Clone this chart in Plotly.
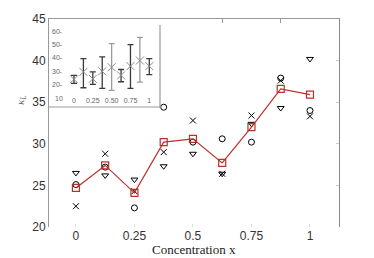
import plotly.graph_objects as go

# ---- data ----
conc = [0, 0.125, 0.25, 0.375, 0.5, 0.625, 0.75, 0.875, 1]
kappa_cross = [22.5, 28.8, 24.3, 29.0, 32.8, 26.4, 33.4, 37.6, 33.3]
kappa_circle = [25.1, 27.2, 22.3, 34.4, 30.2, 30.6, 30.2, 37.9, 34.0]
kappa_tri = [26.5, 26.2, 25.7, 27.3, 28.8, 26.4, 32.4, 34.3, 40.2]
kappa_mean = [24.7, 27.4, 24.1, 30.2, 30.6, 27.7, 32.0, 36.6, 35.9]

# inset: centre, upper and lower ends of the bars
inset_center = [24.0, 29.6, 24.4, 30.0, 33.1, 27.0, 33.9, 38.1, 33.9]
inset_top = [27.0, 39.6, 29.6, 40.8, 50.7, 31.4, 50.0, 55.5, 39.6]
inset_bottom = [21.0, 17.7, 20.2, 17.2, 15.7, 22.2, 17.2, 22.0, 27.6]
inset_light = [False, False, False, False, True, False, False, True, False]

main_xticks = [0, 0.25, 0.5, 0.75, 1]
main_xlabels = ["0", "0.25", "0.5", "0.75", "1"]
main_yticks = [20, 25, 30, 35, 40, 45]
inset_xticks = [0, 0.25, 0.5, 0.75, 1]
inset_xlabels = ["0", "0.25", "0.50", "0.75", "1"]
inset_yticks = [10, 20, 30, 40, 50, 60]
inset_ylabels = ["10", "20-", "30-", "40-", "50-", "60-"]

W, H = 374, 258
L, R, T, B = 49, 35, 19, 31
PW, PH = W - L - R, H - T - B

def px(xp):
    return (xp - L) / PW

def py(yp):
    return (H - B - yp) / PH

fig = go.Figure()

mk = dict(color="black", size=6, line=dict(color="black", width=1))
fig.add_trace(go.Scatter(x=conc, y=kappa_cross, mode="markers",
                         marker=dict(symbol="x-thin-open", **mk)))
fig.add_trace(go.Scatter(x=conc, y=kappa_circle, mode="markers",
                         marker=dict(symbol="circle-open", **mk)))
fig.add_trace(go.Scatter(x=conc, y=kappa_tri, mode="markers",
                         marker=dict(symbol="triangle-down-open", **mk)))
fig.add_trace(go.Scatter(x=conc, y=kappa_mean, mode="lines+markers",
                         line=dict(color="#b8322b", width=1.2),
                         marker=dict(symbol="square-open", size=7,
                                     color="#b8322b",
                                     line=dict(color="#b8322b", width=1.2))))

# overlay axes for top/right frame ticks
fig.add_trace(go.Scatter(x=[None], y=[None], xaxis="x3", yaxis="y3",
                         showlegend=False, hoverinfo="skip"))

# inset error bars
for light in (False, True):
    xs = [c for c, l in zip(conc, inset_light) if l == light]
    ys = [v for v, l in zip(inset_center, inset_light) if l == light]
    up = [t - v for t, v, l in zip(inset_top, inset_center, inset_light) if l == light]
    dn = [v - b for b, v, l in zip(inset_bottom, inset_center, inset_light) if l == light]
    col = "#9a9a9a" if light else "#3a3a3a"
    fig.add_trace(go.Scatter(
        x=xs, y=ys, mode="markers", xaxis="x2", yaxis="y2",
        marker=dict(symbol="x-thin-open", size=8, color="#8a8a8a",
                    line=dict(color="#8a8a8a", width=1)),
        error_y=dict(type="data", symmetric=False, array=up, arrayminus=dn,
                     color=col, thickness=1.3, width=3)))

inset_label_annots = [
    dict(text=lab, xref="paper", yref="y2", x=px(65), y=v,
         xanchor="right", yanchor="middle", showarrow=False,
         font=dict(family="Liberation Sans", size=7, color="#666"))
    for v, lab in zip(inset_yticks, inset_ylabels)
]

ax_x_range = [-0.115, 1.124]
fig.update_layout(
    width=W, height=H, margin=dict(l=L, r=R, t=T, b=B, autoexpand=False),
    paper_bgcolor="white", plot_bgcolor="white", showlegend=False,
    xaxis=dict(domain=[0, 1], range=ax_x_range, tickvals=main_xticks,
               ticktext=main_xlabels, showgrid=False, zeroline=False,
               showline=False, ticks="inside", ticklen=3, tickcolor="#e0e0e0",
               automargin=False,
               tickfont=dict(family="Liberation Sans", size=12, color="#333")),
    yaxis=dict(domain=[0, 1], range=[20, 45], tickvals=main_yticks,
               showgrid=False, zeroline=False, showline=True,
               linecolor="#999", linewidth=1, ticks="", automargin=False,
               tickfont=dict(family="Liberation Sans", size=12, color="#333")),
    xaxis3=dict(overlaying="x", side="top", anchor="y", range=ax_x_range,
                tickvals=[0.625, 0.875], ticks="inside", ticklen=4,
                tickcolor="#999", showticklabels=False, showgrid=False,
                zeroline=False, showline=True, linecolor="#999", linewidth=1,
                automargin=False),
    yaxis3=dict(overlaying="y", side="right", anchor="x", range=[20, 45],
                tickvals=[25, 30, 35, 40], ticks="inside", ticklen=3,
                tickcolor="#ccc", showticklabels=False, showgrid=False,
                zeroline=False, showline=True, linecolor="#888", linewidth=1,
                automargin=False),
    xaxis2=dict(domain=[px(66), px(160)], anchor="y2", range=[-0.106, 1.142],
                tickvals=inset_xticks, ticktext=inset_xlabels,
                ticklabelposition="inside", ticks="", showgrid=False,
                zeroline=False, showline=False, automargin=False,
                tickfont=dict(family="Liberation Sans", size=7, color="#666")),
    yaxis2=dict(domain=[py(107), 1], anchor="x2", range=[3.3, 69.2],
                tickvals=inset_yticks, showticklabels=False,
                ticks="", showgrid=False,
                zeroline=False, showline=False, automargin=False),
    shapes=[
        dict(type="line", xref="paper", yref="paper",
             x0=px(160), x1=px(160), y0=py(25), y1=py(108),
             line=dict(color="#999", width=1.2)),
        dict(type="line", xref="paper", yref="paper",
             x0=0, x1=px(160), y0=py(107), y1=py(107),
             line=dict(color="#999", width=1.2)),
    ],
    annotations=inset_label_annots + [
        dict(text="Concentration x", xref="paper", yref="paper",
             x=0.5, y=py(249), xanchor="center", yanchor="middle",
             showarrow=False,
             font=dict(family="Liberation Serif", size=13, color="#222")),
        dict(text="<i>κ<sub>L</sub></i>", xref="paper", yref="paper",
             x=px(21), y=py(100), xanchor="center", yanchor="middle",
             textangle=-90, showarrow=False,
             font=dict(family="Liberation Serif", size=11, color="#666")),
    ],
)

fig.write_html("out.html",
               config={"displayModeBar": False},
               post_script="document.body.style.margin='0';"
                           "document.body.style.padding='0';")
